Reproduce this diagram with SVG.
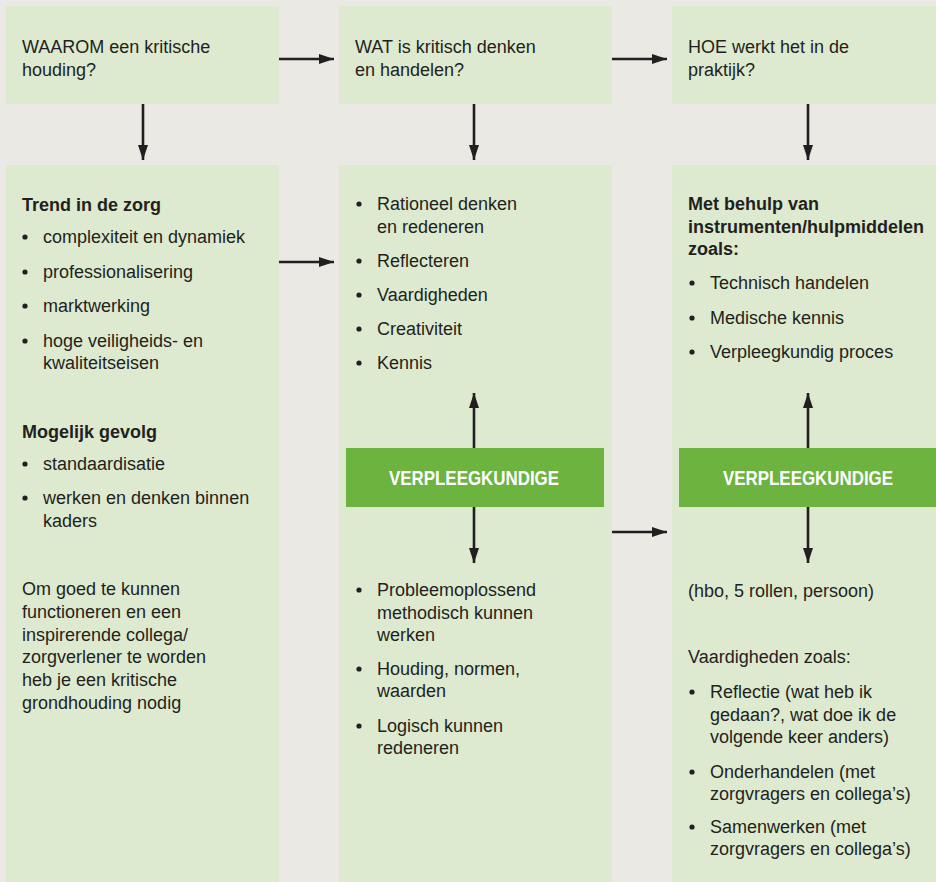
<svg xmlns="http://www.w3.org/2000/svg" width="936" height="882" viewBox="0 0 936 882">
<defs>
<style>
.bg{fill:#EAE9E4}
.box{fill:#DDEACF}
.hl{fill:#6CB33F}
text{font-family:"Liberation Sans",Arial,sans-serif;font-size:18px;fill:#231F20}
.b{font-weight:bold}
.w{fill:#FFFFFF;font-weight:bold;font-size:21px}
.dot{fill:#231F20}
.arr{stroke:#231F20;stroke-width:2.6;fill:none;marker-end:url(#ah)}
</style>
<marker id="ah" viewBox="0 0 15 10" refX="15" refY="5" markerWidth="15" markerHeight="10" markerUnits="userSpaceOnUse" orient="auto">
<path d="M0,0 L15,5 L0,10 Z" fill="#231F20"/>
</marker>
</defs>
<rect class="bg" x="0" y="0" width="936" height="882"/>

<g id="waarom">
<rect class="box" x="6" y="6" width="273" height="98"/>
<text x="22" y="53">WAAROM een kritische</text>
<text x="22" y="76">houding?</text>
</g>

<g id="wat">
<rect class="box" x="339" y="6" width="273" height="98"/>
<text x="355" y="53">WAT is kritisch denken</text>
<text x="355" y="76">en handelen?</text>
</g>

<g id="hoe">
<rect class="box" x="672" y="6" width="264" height="98"/>
<text x="688" y="53">HOE werkt het in de</text>
<text x="688" y="76">praktijk?</text>
</g>

<g id="trend">
<rect class="box" x="6" y="165" width="273" height="717"/>
<text class="b" x="22" y="211">Trend in de zorg</text>
<circle class="dot" cx="25" cy="237" r="2.6"/>
<text x="43" y="243">complexiteit en dynamiek</text>
<circle class="dot" cx="25" cy="272" r="2.6"/>
<text x="43" y="277.5">professionalisering</text>
<circle class="dot" cx="25" cy="306" r="2.6"/>
<text x="43" y="312">marktwerking</text>
<circle class="dot" cx="25" cy="341" r="2.6"/>
<text x="43" y="346.5">hoge veiligheids- en</text>
<text x="43" y="368.5">kwaliteitseisen</text>
<text class="b" x="22" y="438">Mogelijk gevolg</text>
<circle class="dot" cx="25" cy="464" r="2.6"/>
<text x="43" y="470">standaardisatie</text>
<circle class="dot" cx="25" cy="498" r="2.6"/>
<text x="43" y="504">werken en denken binnen</text>
<text x="43" y="527">kaders</text>
<text x="22" y="595">Om goed te kunnen</text>
<text x="22" y="618">functioneren en een</text>
<text x="22" y="640.5">inspirerende collega/</text>
<text x="22" y="663">zorgverlener te worden</text>
<text x="22" y="686">heb je een kritische</text>
<text x="22" y="708.5">grondhouding nodig</text>
</g>

<g id="kritisch">
<rect class="box" x="339" y="165" width="273" height="717"/>
<circle class="dot" cx="359" cy="204" r="2.6"/>
<text x="377" y="210">Rationeel denken</text>
<text x="377" y="233">en redeneren</text>
<circle class="dot" cx="359" cy="261" r="2.6"/>
<text x="377" y="267">Reflecteren</text>
<circle class="dot" cx="359" cy="295" r="2.6"/>
<text x="377" y="301">Vaardigheden</text>
<circle class="dot" cx="359" cy="329" r="2.6"/>
<text x="377" y="335">Creativiteit</text>
<circle class="dot" cx="359" cy="363" r="2.6"/>
<text x="377" y="369">Kennis</text>
<circle class="dot" cx="359" cy="590" r="2.6"/>
<text x="377" y="596">Probleemoplossend</text>
<text x="377" y="619">methodisch kunnen</text>
<text x="377" y="641">werken</text>
<circle class="dot" cx="359" cy="669" r="2.6"/>
<text x="377" y="675">Houding, normen,</text>
<text x="377" y="697">waarden</text>
<circle class="dot" cx="359" cy="726" r="2.6"/>
<text x="377" y="732">Logisch kunnen</text>
<text x="377" y="754">redeneren</text>
</g>

<g id="vpk1">
<rect class="hl" x="346" y="448" width="258" height="59"/>
<text class="w" x="474" y="485" text-anchor="middle" textLength="170" lengthAdjust="spacingAndGlyphs">VERPLEEGKUNDIGE</text>
</g>

<g id="praktijk">
<rect class="box" x="672" y="165" width="264" height="717"/>
<text class="b" x="688" y="210">Met behulp van</text>
<text class="b" x="688" y="233">instrumenten/hulpmiddelen</text>
<text class="b" x="688" y="255">zoals:</text>
<circle class="dot" cx="692" cy="283" r="2.6"/>
<text x="710" y="289">Technisch handelen</text>
<circle class="dot" cx="692" cy="318" r="2.6"/>
<text x="710" y="324">Medische kennis</text>
<circle class="dot" cx="692" cy="352" r="2.6"/>
<text x="710" y="358">Verpleegkundig proces</text>
<text x="688" y="597">(hbo, 5 rollen, persoon)</text>
<text x="688" y="663">Vaardigheden zoals:</text>
<circle class="dot" cx="692" cy="692" r="2.6"/>
<text x="710" y="698">Reflectie (wat heb ik</text>
<text x="710" y="721">gedaan?, wat doe ik de</text>
<text x="710" y="743">volgende keer anders)</text>
<circle class="dot" cx="692" cy="772" r="2.6"/>
<text x="710" y="778">Onderhandelen (met</text>
<text x="710" y="800">zorgvragers en collega’s)</text>
<circle class="dot" cx="692" cy="827" r="2.6"/>
<text x="710" y="833">Samenwerken (met</text>
<text x="710" y="855">zorgvragers en collega’s)</text>
</g>

<g id="vpk2">
<rect class="hl" x="679" y="448" width="257" height="59"/>
<text class="w" x="808" y="485" text-anchor="middle" textLength="170" lengthAdjust="spacingAndGlyphs">VERPLEEGKUNDIGE</text>
</g>

<g id="connectors">
<line class="arr" x1="279" y1="59" x2="334" y2="59"/>
<line class="arr" x1="612" y1="59" x2="667" y2="59"/>
<line class="arr" x1="143" y1="104" x2="143" y2="160"/>
<line class="arr" x1="474" y1="104" x2="474" y2="160"/>
<line class="arr" x1="808" y1="104" x2="808" y2="160"/>
<line class="arr" x1="279" y1="262" x2="334" y2="262"/>
<line class="arr" x1="474" y1="448" x2="474" y2="393"/>
<line class="arr" x1="808" y1="448" x2="808" y2="393"/>
<line class="arr" x1="474" y1="507" x2="474" y2="563"/>
<line class="arr" x1="808" y1="507" x2="808" y2="563"/>
<line class="arr" x1="612" y1="532" x2="667" y2="532"/>
</g>
</svg>
